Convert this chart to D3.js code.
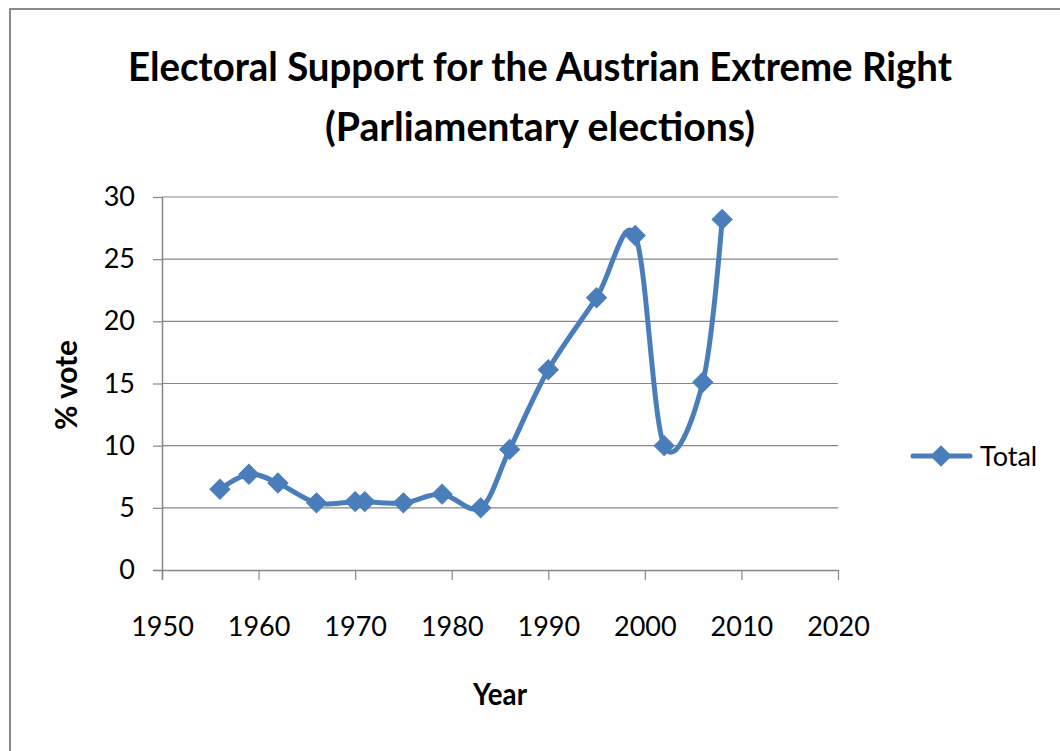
<!DOCTYPE html>
<html>
<head>
<meta charset="utf-8">
<script src="https://cdn.jsdelivr.net/npm/d3@7"></script>
<style>
  html, body { margin: 0; padding: 0; background: #ffffff; }
  svg { display: block; }
  text { font-family: Lato, "Noto Sans", sans-serif; fill: #000; }
</style>
</head>
<body>
<svg id="chart" width="1060" height="751"></svg>
<script>
// Election years and combined extreme-right vote share (%)
const years = [1956, 1959, 1962, 1966, 1970, 1971, 1975, 1979, 1983, 1986, 1990, 1995, 1999, 2002, 2006, 2008];
const votes = [6.5, 7.7, 7.0, 5.4, 5.5, 5.5, 5.4, 6.1, 5.0, 9.7, 16.1, 21.9, 26.9, 10.0, 15.1, 28.2];
const xTicks = [1950, 1960, 1970, 1980, 1990, 2000, 2010, 2020];
const yTicks = [0, 5, 10, 15, 20, 25, 30];
const seriesName = "Total";
const titleLines = ["Electoral Support for the Austrian Extreme Right", "(Parliamentary elections)"];

const svg = d3.select("#chart");
const blue = "#4a7ebb";
const gridColor = "#878787";

// Outer chart frame
svg.append("rect")
  .attr("x", 10).attr("y", 9).attr("width", 1100).attr("height", 800)
  .attr("fill", "#fefefe").attr("stroke", "#8a8a8a").attr("stroke-width", 2);

const plot = { left: 162, right: 838, top: 197, bottom: 570 };

const x = d3.scaleLinear().domain([1950, 2020]).range([plot.left, plot.right]);
const y = d3.scaleLinear().domain([0, 30]).range([plot.bottom, plot.top]);

// Horizontal gridlines
svg.append("g")
  .selectAll("line")
  .data(yTicks.filter(v => v > 0))
  .join("line")
  .attr("x1", plot.left).attr("x2", plot.right)
  .attr("y1", d => y(d)).attr("y2", d => y(d))
  .attr("stroke", gridColor).attr("stroke-width", 1.2);

// Y axis
const yAxis = svg.append("g")
  .attr("transform", `translate(${plot.left},0)`)
  .call(d3.axisLeft(y).tickValues(yTicks).tickSize(9).tickPadding(18).tickFormat(d3.format("d")));
yAxis.select(".domain").attr("stroke", gridColor).attr("stroke-width", 1.5)
  .attr("d", `M0.5,${plot.top}V${plot.bottom + 10}`);
yAxis.selectAll(".tick line").attr("stroke", gridColor).attr("stroke-width", 1.2);
yAxis.selectAll(".tick text").attr("font-size", 27).attr("font-family", "Lato, sans-serif").attr("fill", "#000");

// X axis
const xAxis = svg.append("g")
  .attr("transform", `translate(0,${plot.bottom})`)
  .call(d3.axisBottom(x).tickValues(xTicks).tickSize(10).tickPadding(37).tickFormat(d3.format("d")));
xAxis.select(".domain").attr("stroke", gridColor).attr("stroke-width", 1.5)
  .attr("d", `M${plot.left - 9},0.5H${plot.right}`);
xAxis.selectAll(".tick line").attr("stroke", gridColor).attr("stroke-width", 1.2);
xAxis.selectAll(".tick text").attr("font-size", 27).attr("font-family", "Lato, sans-serif").attr("fill", "#000");

// Smoothed series line
const pts = years.map((yr, i) => ({ year: yr, value: votes[i] }));
const line = d3.line()
  .x(d => x(d.year))
  .y(d => y(d.value))
  .curve(d3.curveCardinal.tension(0));

svg.append("path")
  .datum(pts)
  .attr("d", line)
  .attr("fill", "none")
  .attr("stroke", blue)
  .attr("stroke-width", 5)
  .attr("stroke-linejoin", "round")
  .attr("stroke-linecap", "round");

// Diamond markers
const diamond = d3.symbol().type(d3.symbolSquare).size(200);
svg.append("g")
  .selectAll("path")
  .data(pts)
  .join("path")
  .attr("d", diamond)
  .attr("transform", d => `translate(${x(d.year)},${y(d.value)}) rotate(45)`)
  .attr("fill", blue)
  .attr("stroke", blue)
  .attr("stroke-width", 1);

// Title
svg.append("text")
  .attr("x", 540).attr("y", 81)
  .attr("text-anchor", "middle")
  .attr("font-size", 40).attr("font-weight", "bold")
  .attr("textLength", 824).attr("lengthAdjust", "spacingAndGlyphs")
  .text(titleLines[0]);
svg.append("text")
  .attr("x", 540).attr("y", 141)
  .attr("text-anchor", "middle")
  .attr("font-size", 40).attr("font-weight", "bold")
  .attr("textLength", 430).attr("lengthAdjust", "spacingAndGlyphs")
  .text(titleLines[1]);

// Axis titles
svg.append("text")
  .attr("transform", "translate(77,385) rotate(-90)")
  .attr("text-anchor", "middle")
  .attr("font-size", 30).attr("font-weight", "bold")
  .attr("textLength", 90).attr("lengthAdjust", "spacingAndGlyphs")
  .text("% vote");
svg.append("text")
  .attr("x", 500).attr("y", 705)
  .attr("text-anchor", "middle")
  .attr("font-size", 30).attr("font-weight", "bold")
  .attr("textLength", 54).attr("lengthAdjust", "spacingAndGlyphs")
  .text("Year");

// Legend
const legend = svg.append("g");
legend.append("line")
  .attr("x1", 913).attr("x2", 970).attr("y1", 456).attr("y2", 456)
  .attr("stroke", blue).attr("stroke-width", 5).attr("stroke-linecap", "round");
legend.append("path")
  .attr("d", diamond)
  .attr("transform", "translate(941,456) rotate(45)")
  .attr("fill", blue).attr("stroke", blue);
legend.append("text")
  .attr("x", 980).attr("y", 466)
  .attr("font-size", 27)
  .text(seriesName);
</script>
</body>
</html>
